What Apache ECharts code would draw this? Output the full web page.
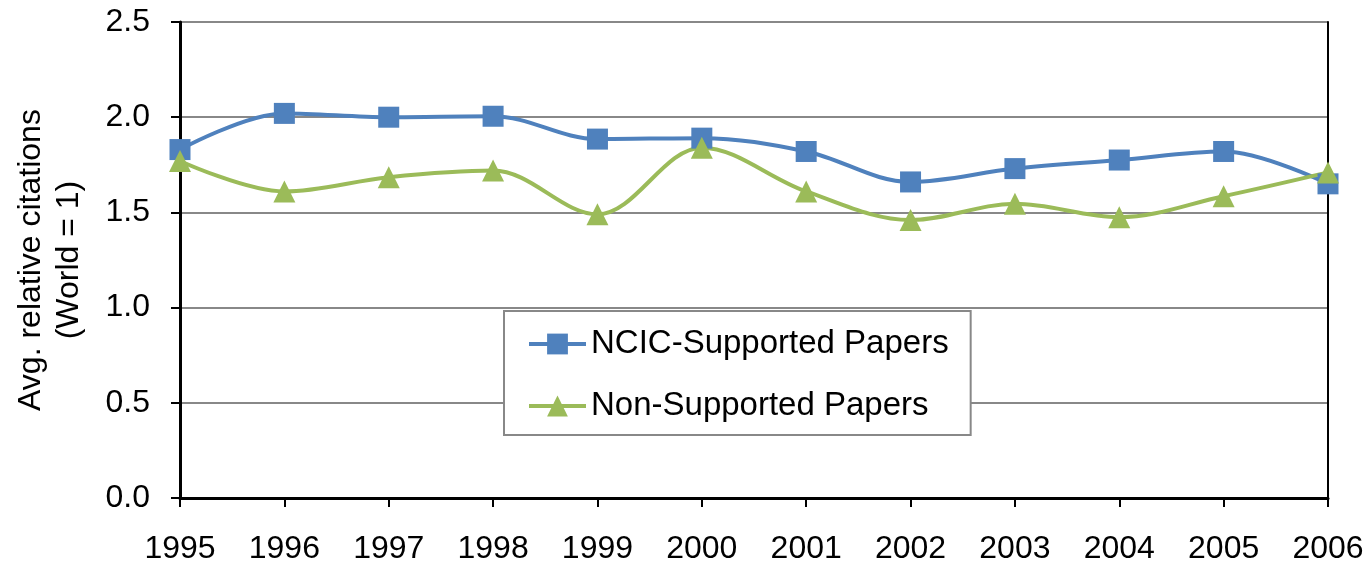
<!DOCTYPE html>
<html lang="en">
<head>
    <meta charset="UTF-8">
    <title>Avg. relative citations</title>
    <style>
        body, html { margin: 0; padding: 0; height: 100%; width: 100%; background: #fff; }
    </style>
</head>
<body>
<div id="main" style="height: 565px; width: 1371px;"></div>
<script src="https://cdn.jsdelivr.net/npm/echarts@6/dist/echarts.min.js"></script>
<script>
    var years = ['1995', '1996', '1997', '1998', '1999', '2000', '2001', '2002', '2003', '2004', '2005', '2006'];
    var ncicSupported = [1.83, 2.02, 2.00, 2.005, 1.885, 1.89, 1.82, 1.66, 1.73, 1.775, 1.82, 1.65];
    var nonSupported = [1.77, 1.61, 1.685, 1.72, 1.49, 1.84, 1.61, 1.46, 1.545, 1.475, 1.585, 1.71];

    var font = 'Liberation Sans, Arial, sans-serif';
    var myChart = echarts.init(document.getElementById('main'));

    myChart.setOption({
        backgroundColor: '#fff',
        animation: false,
        grid: { left: 180, right: 43, top: 22, bottom: 66 },
        legend: {
            orient: 'vertical',
            left: 504,
            top: 311,
            padding: [16, 22, 12, 23],
            borderColor: '#888',
            borderWidth: 2,
            borderRadius: 0,
            backgroundColor: '#fff',
            itemGap: 28,
            itemWidth: 57,
            itemHeight: 26,
            lineStyle: { width: 4 },
            textStyle: { fontFamily: font, fontSize: 33, lineHeight: 34, color: '#000' },
            data: ['NCIC-Supported Papers', 'Non-Supported Papers']
        },
        xAxis: {
            type: 'category',
            boundaryGap: false,
            data: years,
            axisLine: { lineStyle: { color: '#000', width: 3 } },
            axisTick: { show: true, length: 9, lineStyle: { color: '#000', width: 2 } },
            axisLabel: { fontFamily: font, fontSize: 32, color: '#000', margin: 35, interval: 0 }
        },
        yAxis: [{
            type: 'value',
            min: 0,
            max: 2.5,
            interval: 0.5,
            name: 'Avg. relative citations\n(World = 1)',
            nameLocation: 'middle',
            nameGap: 92,
            nameTextStyle: { fontFamily: font, fontSize: 32, color: '#000', lineHeight: 38 },
            axisLine: { show: true, lineStyle: { color: '#000', width: 3 } },
            axisTick: { show: true, length: 9, lineStyle: { color: '#000', width: 2 } },
            axisLabel: {
                fontFamily: font, fontSize: 32, color: '#000', margin: 30,
                formatter: function (v) { return v.toFixed(1); }
            },
            splitLine: { lineStyle: { color: '#888', width: 2 } }
        }, {
            type: 'value',
            min: 0,
            max: 2.5,
            interval: 0.5,
            position: 'right',
            axisLine: { show: true, lineStyle: { color: '#000', width: 2 } },
            axisTick: { show: false },
            axisLabel: { show: false },
            splitLine: { show: false }
        }],
        series: [{
            name: 'NCIC-Supported Papers',
            type: 'line',
            smooth: 0.35,
            data: ncicSupported,
            symbol: 'rect',
            symbolSize: 21,
            itemStyle: { color: '#4F81BD' },
            lineStyle: { color: '#4F81BD', width: 4 }
        }, {
            name: 'Non-Supported Papers',
            type: 'line',
            smooth: 0.35,
            data: nonSupported,
            symbol: 'triangle',
            symbolSize: 22,
            itemStyle: { color: '#9BBB59' },
            lineStyle: { color: '#9BBB59', width: 4 }
        }]
    });
</script>
</body>
</html>
